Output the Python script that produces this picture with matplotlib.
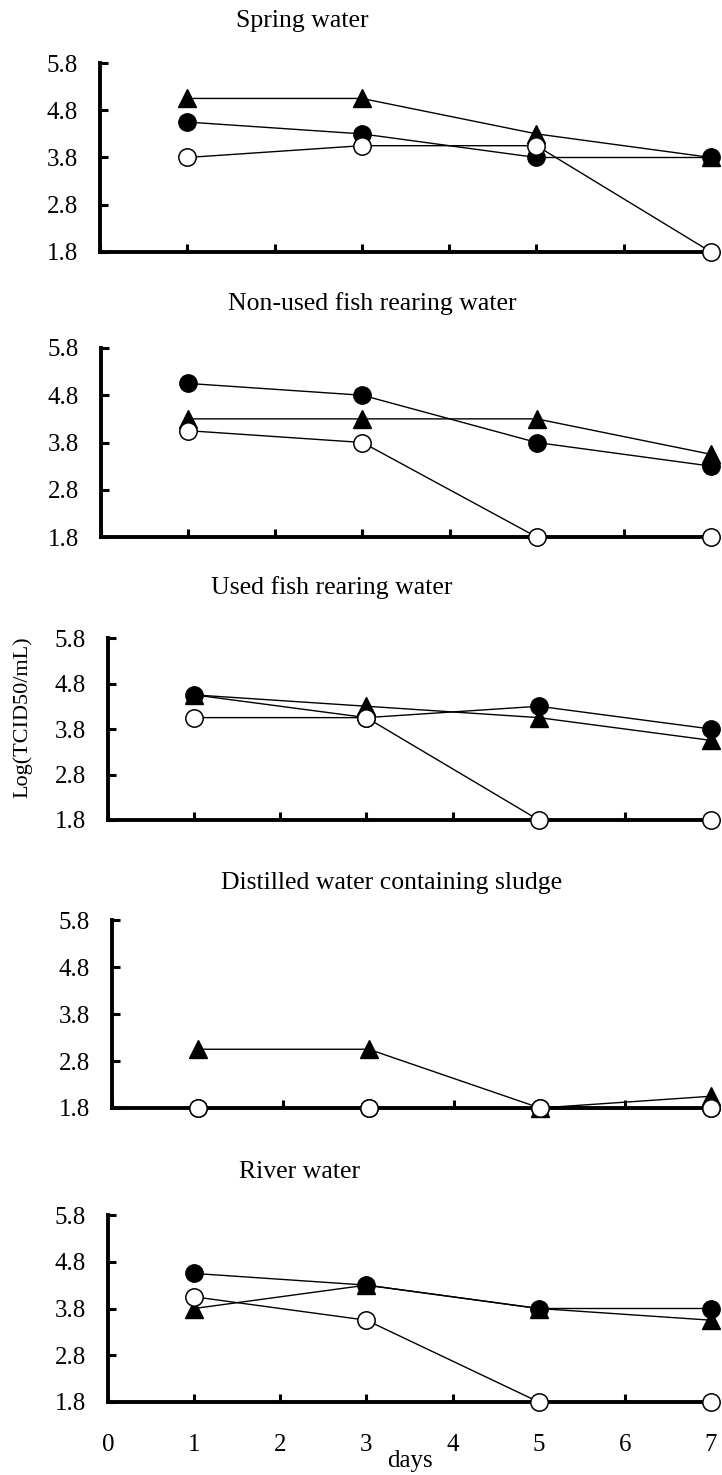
import matplotlib
matplotlib.use("Agg")
import matplotlib.pyplot as plt

# sampling days and virus titres (log TCID50/mL) for each water type
days = [1, 3, 5, 7]

spring_closed = [4.55, 4.3, 3.8, 3.8]
spring_triangle = [5.05, 5.05, 4.3, 3.8]
spring_open = [3.8, 4.05, 4.05, 1.8]

nonused_closed = [5.05, 4.8, 3.8, 3.3]
nonused_triangle = [4.3, 4.3, 4.3, 3.55]
nonused_open = [4.05, 3.8, 1.8, 1.8]

used_closed = [4.55, 4.05, 4.3, 3.8]
used_triangle = [4.55, 4.3, 4.05, 3.55]
used_open = [4.05, 4.05, 1.8, 1.8]

sludge_closed = [1.8, 1.8, 1.8, 1.8]
sludge_triangle = [3.05, 3.05, 1.8, 2.05]
sludge_open = [1.8, 1.8, 1.8, 1.8]

river_closed = [4.55, 4.3, 3.8, 3.8]
river_triangle = [3.8, 4.3, 3.8, 3.55]
river_open = [4.05, 3.55, 1.8, 1.8]

titles = [
    "Spring water",
    "Non-used fish rearing water",
    "Used fish rearing water",
    "Distilled water containing sludge",
    "River water",
]
y_ticks = [1.8, 2.8, 3.8, 4.8, 5.8]
x_ticks = [0, 1, 2, 3, 4, 5, 6, 7]

W, H = 722, 1475

plt.rcParams["font.family"] = ["Liberation Serif", "DejaVu Serif"]


def draw_panel(ax, closed, triangle, opened, show_xlabels):
    line_kw = dict(color="black", linewidth=1.0, clip_on=False)
    ax.plot(days, triangle, marker="^", markersize=13.5,
            markerfacecolor="black", markeredgecolor="black", zorder=3, **line_kw)
    ax.plot(days, closed, marker="o", markersize=12.5,
            markerfacecolor="black", markeredgecolor="black", zorder=4, **line_kw)
    ax.plot(days, opened, marker="o", markersize=12.5, markeredgewidth=1.1,
            markerfacecolor="white", markeredgecolor="black", zorder=5, **line_kw)

    ax.set_xlim(0, 7)
    ax.set_ylim(1.8, 5.8)
    ax.set_xticks(x_ticks)
    ax.set_yticks(y_ticks)
    ax.set_yticklabels(["%.1f" % v for v in y_ticks])
    if show_xlabels:
        ax.set_xticklabels([str(v) for v in x_ticks])
    else:
        ax.set_xticklabels([])

    for side in ["top", "right"]:
        ax.spines[side].set_visible(False)
    for side in ["left", "bottom"]:
        ax.spines[side].set_linewidth(2.8)
        ax.spines[side].set_zorder(2)

    ax.tick_params(axis="both", direction="in", width=2.2, length=6,
                   labelsize=18)
    ax.tick_params(axis="y", pad=16)
    ax.tick_params(axis="x", pad=23)


fig = plt.figure(figsize=(W / 100, H / 100), dpi=100)

# axes boxes in pixels: left, top, right, bottom
boxes = [
    (100, 63, 711, 252),
    (101, 348, 711, 537),
    (108, 638, 711, 820),
    (112, 920, 711, 1108),
    (108, 1215, 711, 1402),
]
title_xy = [(302, 21), (372, 304), (332, 588), (392, 883), (300, 1172)]

series = [
    (spring_closed, spring_triangle, spring_open),
    (nonused_closed, nonused_triangle, nonused_open),
    (used_closed, used_triangle, used_open),
    (sludge_closed, sludge_triangle, sludge_open),
    (river_closed, river_triangle, river_open),
]

for i, (box, data) in enumerate(zip(boxes, series)):
    left, top, right, bottom = box
    ax = fig.add_axes([left / W, 1 - bottom / H, (right - left) / W, (bottom - top) / H])
    draw_panel(ax, *data, show_xlabels=(i == len(boxes) - 1))
    tx, ty = title_xy[i]
    fig.text(tx / W, 1 - ty / H, titles[i], ha="center", va="center", fontsize=18.5)

fig.text(23 / W, 1 - 717 / H, "Log(TCID50/mL)", rotation=90,
         ha="center", va="center", fontsize=16)
fig.text(410 / W, 1 - 1467 / H, "days", ha="center", va="baseline", fontsize=18)

fig.savefig("out.png", dpi=100)
